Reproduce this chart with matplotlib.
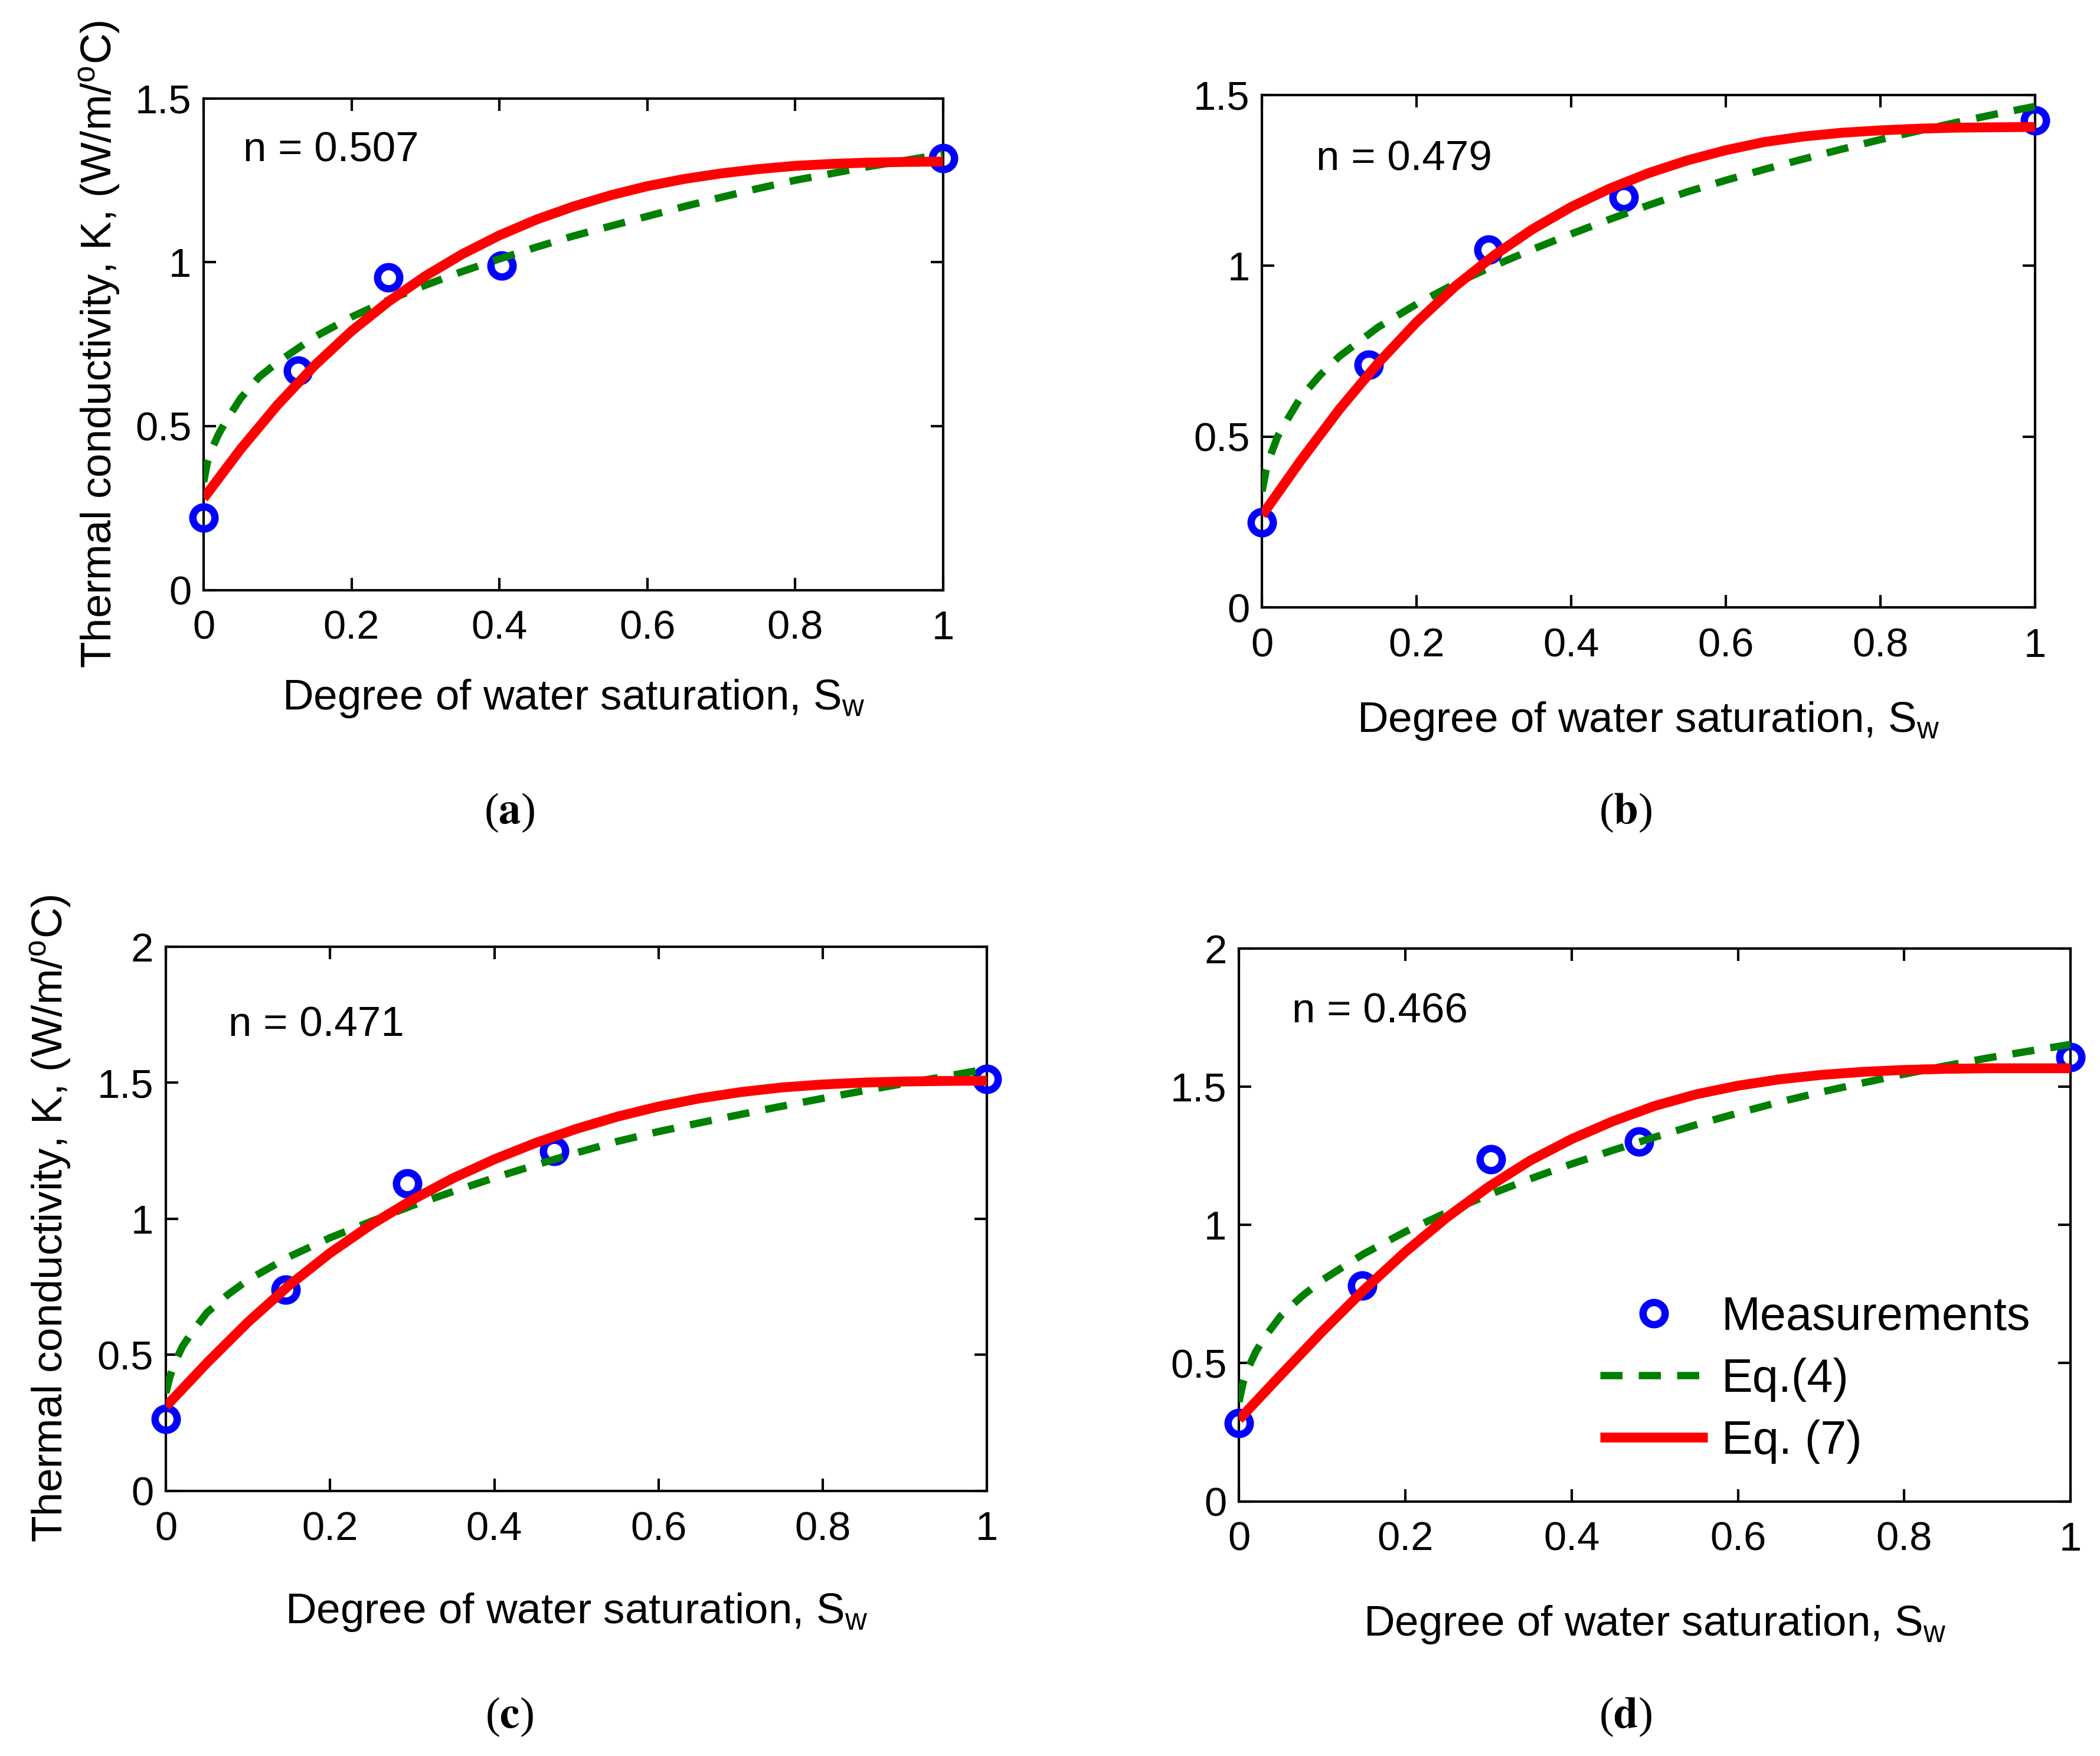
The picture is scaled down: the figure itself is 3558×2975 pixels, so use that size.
import matplotlib
matplotlib.use('Agg')
from matplotlib import pyplot as plt

plt.rcParams['font.family'] = ['Liberation Sans', 'DejaVu Sans']
plt.rcParams['mathtext.default'] = 'regular'

# measured points (Sw, K) for the four samples
sw_a = [0, 0.128, 0.25, 0.403, 1.0]
k_a = [0.22, 0.67, 0.954, 0.99, 1.317]
sw_b = [0, 0.138, 0.293, 0.468, 1.0]
k_b = [0.25, 0.71, 1.047, 1.20, 1.426]
sw_c = [0, 0.146, 0.294, 0.473, 1.0]
k_c = [0.264, 0.74, 1.13, 1.248, 1.513]
sw_d = [0, 0.148, 0.303, 0.481, 1.0]
k_d = [0.283, 0.78, 1.238, 1.30, 1.607]

# Eq.(4) curves (denser near Sw = 0 where they rise fast)
sw_eq4 = [0, 0.005, 0.01, 0.02, 0.03, 0.05, 0.075, 0.1, 0.15, 0.2, 0.25, 0.3, 0.35,
          0.4, 0.45, 0.5, 0.55, 0.6, 0.65, 0.7, 0.75, 0.8, 0.85, 0.9, 0.95, 1.0]
eq4_a = [0.33, 0.39, 0.425, 0.475, 0.515, 0.585, 0.65, 0.695, 0.772, 0.833, 0.885, 0.93, 0.972,
         1.01, 1.046, 1.08, 1.11, 1.14, 1.17, 1.198, 1.225, 1.25, 1.271, 1.292, 1.311, 1.33]
eq4_b = [0.34, 0.40, 0.44, 0.50, 0.54, 0.615, 0.68, 0.735, 0.82, 0.888, 0.948, 1.0, 1.048,
         1.093, 1.136, 1.177, 1.216, 1.25, 1.282, 1.312, 1.341, 1.369, 1.395, 1.42, 1.444, 1.466]
eq4_c = [0.36, 0.42, 0.465, 0.53, 0.575, 0.655, 0.72, 0.775, 0.86, 0.93, 0.99, 1.048, 1.1,
         1.15, 1.197, 1.242, 1.284, 1.32, 1.352, 1.383, 1.413, 1.442, 1.47, 1.497, 1.523, 1.55]
eq4_d = [0.36, 0.43, 0.475, 0.54, 0.59, 0.67, 0.74, 0.80, 0.895, 0.975, 1.045, 1.108, 1.166,
         1.22, 1.27, 1.317, 1.362, 1.404, 1.444, 1.48, 1.513, 1.545, 1.575, 1.603, 1.628, 1.652]

# Eq.(7) curves
sw_eq7 = [0, 0.05, 0.1, 0.15, 0.2, 0.25, 0.3, 0.35, 0.4, 0.45, 0.5,
          0.55, 0.6, 0.65, 0.7, 0.75, 0.8, 0.85, 0.9, 0.95, 1.0]
eq7_a = [0.28, 0.43, 0.565, 0.685, 0.79, 0.88, 0.958, 1.025, 1.082, 1.13, 1.17,
         1.204, 1.232, 1.254, 1.271, 1.284, 1.294, 1.300, 1.304, 1.306, 1.307]
eq7_b = [0.27, 0.43, 0.58, 0.715, 0.835, 0.94, 1.03, 1.107, 1.172, 1.226, 1.271,
         1.308, 1.338, 1.362, 1.378, 1.389, 1.396, 1.401, 1.404, 1.405, 1.406]
eq7_c = [0.31, 0.47, 0.62, 0.755, 0.874, 0.978, 1.069, 1.149, 1.218, 1.278, 1.33,
         1.375, 1.412, 1.442, 1.465, 1.482, 1.493, 1.500, 1.504, 1.506, 1.507]
eq7_d = [0.296, 0.456, 0.614, 0.764, 0.902, 1.027, 1.137, 1.232, 1.31, 1.375, 1.43,
         1.472, 1.503, 1.526, 1.542, 1.553, 1.56, 1.564, 1.566, 1.566, 1.566]

n_values = ['0.507', '0.479', '0.471', '0.466']
panel_names = ['a', 'b', 'c', 'd']
y_max = [1.5, 1.5, 2, 2]
x_ticks = [0, 0.2, 0.4, 0.6, 0.8, 1]
x_tick_labels = ['0', '0.2', '0.4', '0.6', '0.8', '1']

points = [(sw_a, k_a), (sw_b, k_b), (sw_c, k_c), (sw_d, k_d)]
eq4 = [eq4_a, eq4_b, eq4_c, eq4_d]
eq7 = [eq7_a, eq7_b, eq7_c, eq7_d]

# axes rectangles [left, bottom, width, height] in figure fraction
rects = [[0.097, 0.664, 0.352, 0.280],
         [0.601, 0.654, 0.368, 0.292],
         [0.079, 0.151, 0.391, 0.310],
         [0.590, 0.145, 0.396, 0.315]]
n_pos = [(0.053, 1.34), (0.07, 1.31), (0.076, 1.71), (0.064, 1.77)]
label_pos = [(0.2425, 0.537), (0.774, 0.537), (0.2425, 0.022), (0.774, 0.022)]

fig = plt.figure(figsize=(3558 / 300, 2975 / 300), dpi=300)

for i in range(4):
    ax = fig.add_axes(rects[i])
    sw, k = points[i]
    ax.plot(sw, k, 'o', color='blue', markerfacecolor='none', markersize=9,
            markeredgewidth=3, clip_on=False, label='Measurements', zorder=3)
    ax.plot(sw_eq4, eq4[i], color='#008000', lw=3, dashes=(3, 2.2),
            label='Eq.(4)', zorder=4)
    ax.plot(sw_eq7, eq7[i], color='red', lw=4, solid_capstyle='butt',
            solid_joinstyle='round', label='Eq. (7)', zorder=5)

    ax.set_xlim(0, 1)
    ax.set_ylim(0, y_max[i])
    ax.set_xticks(x_ticks)
    ax.set_xticklabels(x_tick_labels)
    yt = [0, 0.5, 1, 1.5, 2][: int(y_max[i] * 2) + 1]
    ax.set_yticks(yt)
    ax.set_yticklabels(['%g' % v for v in yt])
    ax.tick_params(direction='in', top=True, right=True, length=5, width=1,
                   labelsize=16.5)
    ax.tick_params(axis='x', pad=8)
    ax.tick_params(axis='y', pad=5)
    for s in ax.spines.values():
        s.set_linewidth(1)

    ax.text(n_pos[i][0], n_pos[i][1], 'n = ' + n_values[i], fontsize=17,
            va='center', ha='left')

    ax.set_xlabel('Degree of water saturation, S$_{w}$', fontsize=17.5, va='baseline')
    ax.xaxis.set_label_coords(0.5, -0.243)
    if i in (0, 2):
        ax.set_ylabel('Thermal conductivity, K, (W/m/$^o$C)', fontsize=17.5, va='center')
        ax.yaxis.set_label_coords(-0.14, 0.5)

    if i == 3:
        ax.legend(loc='center left', bbox_to_anchor=(0.434, 0.22), frameon=False,
                  fontsize=19, handlelength=2.3, handletextpad=0.3,
                  labelspacing=0.38, borderpad=0, borderaxespad=0, numpoints=1)

    fig.text(label_pos[i][0], label_pos[i][1], r'($\mathbf{%s}$)' % panel_names[i],
             fontsize=18, ha='center', va='center', family='Liberation Serif',
             math_fontfamily='stix')

fig.savefig('out.png', dpi=300)
